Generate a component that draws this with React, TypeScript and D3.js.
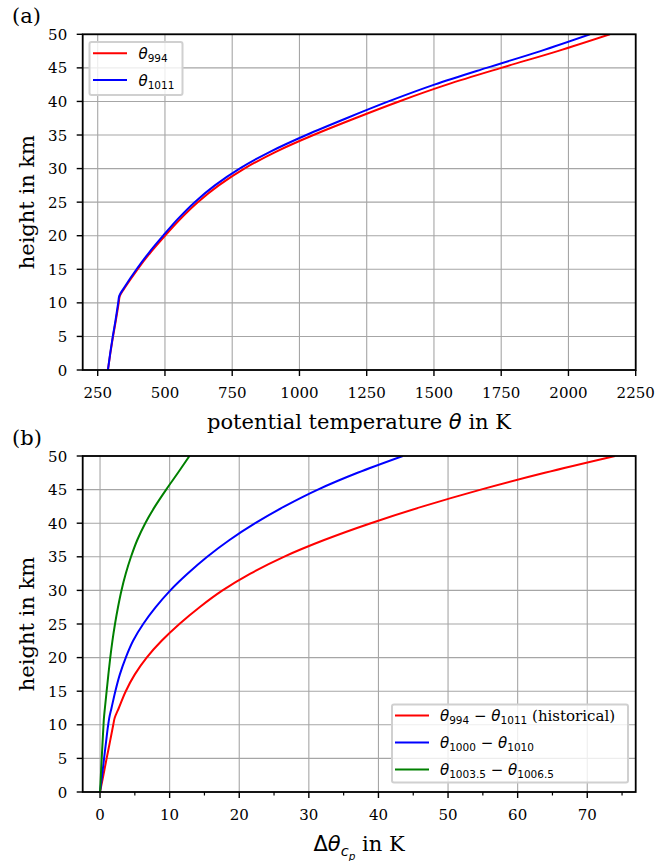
import React from 'react';
import * as d3 from 'd3';

const heights = [0, 2.5, 5, 7.5, 10, 11, 12.5, 15, 17.5, 20, 22.5, 25, 27.5, 30, 32.5, 35, 37.5, 40, 42.5, 45, 47.5, 50];
const theta994 = [288, 297, 307, 318, 328, 332, 355, 398, 446, 500, 557, 622, 700, 795, 912, 1052, 1207, 1370, 1548, 1750, 1960, 2154];
const theta1011 = [288, 296.5, 306.05, 316.6, 326.1, 329.9, 352.3, 394.3, 441, 493.3, 548.15, 610.6, 685.7, 777.4, 890.4, 1025.6, 1174.8, 1331.1, 1501.6, 1695.3, 1896.1, 2080];
const deltaHist = [0, 0.48, 0.95, 1.43, 1.9, 2.1, 2.7, 3.7, 5.0, 6.7, 8.85, 11.4, 14.3, 17.6, 21.6, 26.4, 32.2, 38.9, 46.4, 54.7, 63.9, 74];
const delta1000 = [0, 0.3, 0.58, 0.87, 1.17, 1.32, 1.65, 2.2, 2.85, 3.7, 4.75, 6.2, 8.0, 10.1, 12.6, 15.4, 18.6, 22.3, 26.5, 31.3, 37.0, 43.5];
const delta1003 = [0, 0.12, 0.24, 0.37, 0.5, 0.56, 0.7, 0.95, 1.2, 1.47, 1.78, 2.15, 2.58, 3.08, 3.7, 4.45, 5.35, 6.5, 7.9, 9.5, 11.2, 12.85];

const xTicksA = [250, 500, 750, 1000, 1250, 1500, 1750, 2000, 2250];
const xTicksB = [0, 10, 20, 30, 40, 50, 60, 70];
const xMinorB = [5, 15, 25, 35, 45, 55, 65, 75];
const yTicks = [0, 5, 10, 15, 20, 25, 30, 35, 40, 45, 50];

const SERIF = '"DejaVu Serif", serif';
const SANS = '"DejaVu Sans", sans-serif';
const LEFT = 82.7;
const RIGHT = 635.7;
const GRID = '#a6a6a6';
const TICK_FS = 15;
const LABEL_FS = 21;
const LEG_FS = 15;

type Part = { t: string; font?: string; italic?: boolean; size?: number; shift?: number };

function MathText({ parts, x, y, fs, anchor }: { parts: Part[]; x: number; y: number; fs: number; anchor?: string }) {
  let prev = 0;
  return (
    <text x={x} y={y} fontSize={fs} textAnchor={anchor || 'start'} fontFamily={SERIF} style={{ whiteSpace: 'pre' }}>
      {parts.map((p, i) => {
        const s = p.shift || 0;
        const dy = s - prev;
        prev = s;
        return (
          <tspan key={i} dy={dy} fontFamily={p.font || SERIF} fontStyle={p.italic ? 'italic' : 'normal'}
            fontSize={p.size || fs}>{p.t}</tspan>
        );
      })}
    </text>
  );
}

const th = (sub: string, fs: number): Part[] => [
  { t: 'θ', font: SANS, italic: true },
  { t: sub, font: SANS, size: fs * 0.7, shift: fs * 0.22 },
];
const minus = (): Part => ({ t: ' − ', font: SANS, shift: 0 });

type Series = { xs: number[]; color: string };

function Panel({ top, bottom, xDomain, xTicks, xMinor, series, children }: {
  top: number; bottom: number; xDomain: [number, number]; xTicks: number[]; xMinor: number[];
  series: Series[]; children?: React.ReactNode;
}) {
  const x = d3.scaleLinear().domain(xDomain).range([LEFT, RIGHT]);
  const y = d3.scaleLinear().domain([0, 50]).range([bottom, top]);
  const line = d3.line<[number, number]>().x(d => x(d[0])).y(d => y(d[1])).curve(d3.curveMonotoneY);
  return (
    <g>
      <defs>
        <clipPath id={`clip${top}`}>
          <rect x={LEFT} y={top} width={RIGHT - LEFT} height={bottom - top} />
        </clipPath>
      </defs>
      {xTicks.map(t => (
        <line key={'gx' + t} x1={x(t)} x2={x(t)} y1={top} y2={bottom} stroke={GRID} strokeWidth={1.1} />
      ))}
      {yTicks.map(t => (
        <line key={'gy' + t} x1={LEFT} x2={RIGHT} y1={y(t)} y2={y(t)} stroke={GRID} strokeWidth={1.1} />
      ))}
      <g clipPath={`url(#clip${top})`}>
        {series.map((s, i) => (
          <path key={i} d={line(s.xs.map((v, j) => [v, heights[j]] as [number, number])) || ''}
            fill="none" stroke={s.color} strokeWidth={2} strokeLinejoin="round" />
        ))}
      </g>
      <rect x={LEFT} y={top} width={RIGHT - LEFT} height={bottom - top} fill="none" stroke="#000" strokeWidth={1.8} />
      {xTicks.map(t => (
        <g key={'tx' + t}>
          <line x1={x(t)} x2={x(t)} y1={bottom} y2={bottom + 6} stroke="#000" strokeWidth={1.4} />
          <text x={x(t)} y={bottom + 27.5} textAnchor="middle" fontFamily={SERIF} fontSize={TICK_FS}>{t}</text>
        </g>
      ))}
      {xMinor.map(t => (
        <line key={'mx' + t} x1={x(t)} x2={x(t)} y1={bottom} y2={bottom + 3.5} stroke="#000" strokeWidth={1.2} />
      ))}
      {yTicks.map(t => (
        <g key={'ty' + t}>
          <line x1={LEFT - 6} x2={LEFT} y1={y(t)} y2={y(t)} stroke="#000" strokeWidth={1.4} />
          <text x={LEFT - 15.5} y={y(t) + 5.5} textAnchor="end" fontFamily={SERIF} fontSize={TICK_FS}>{t}</text>
        </g>
      ))}
      <text transform={`translate(34,${(top + bottom) / 2}) rotate(-90)`} textAnchor="middle"
        fontFamily={SERIF} fontSize={LABEL_FS}>height in km</text>
      {children}
    </g>
  );
}

export default function App() {
  return (
    <svg width={657} height={861} style={{ position: 'absolute', left: 0, top: 0, background: '#fff' }}>
      <rect width={657} height={861} fill="#fff" />
      <text x={12} y={22.5} fontFamily={SERIF} fontSize={LABEL_FS}>(a)</text>
      <Panel top={34.3} bottom={370} xDomain={[194.2, 2250]} xTicks={xTicksA} xMinor={[]}
        series={[{ xs: theta994, color: '#ff0000' }, { xs: theta1011, color: '#0000ff' }]}>
        <MathText x={359} y={429} fs={LABEL_FS} anchor="middle" parts={[
          { t: 'potential temperature ' }, { t: 'θ', font: SANS, italic: true }, { t: ' in K' },
        ]} />
        <g>
          <rect x={89.5} y={42} width={93} height={53} rx={2} fill="#fff" fillOpacity={0.8} stroke="#d0d0d0" strokeWidth={2} />
          <line x1={93} x2={127} y1={53.3} y2={53.3} stroke="#ff0000" strokeWidth={2} />
          <line x1={93} x2={127} y1={80} y2={80} stroke="#0000ff" strokeWidth={2} />
          <MathText x={138.5} y={58.5} fs={LEG_FS} parts={th('994', LEG_FS)} />
          <MathText x={138.5} y={85.5} fs={LEG_FS} parts={th('1011', LEG_FS)} />
        </g>
      </Panel>
      <text x={12} y={444.5} fontFamily={SERIF} fontSize={LABEL_FS}>(b)</text>
      <Panel top={456} bottom={792} xDomain={[-2.49, 76.96]} xTicks={xTicksB} xMinor={xMinorB}
        series={[{ xs: deltaHist, color: '#ff0000' }, { xs: delta1000, color: '#0000ff' }, { xs: delta1003, color: '#008000' }]}>
        <MathText x={359} y={851} fs={LABEL_FS} anchor="middle" parts={[
          { t: 'Δ', font: SANS },
          { t: 'θ', font: SANS, italic: true },
          { t: 'c', font: SANS, italic: true, size: 14.5, shift: 5 },
          { t: 'p', font: SANS, italic: true, size: 10.5, shift: 8.5 },
          { t: ' in K', shift: 0 },
        ]} />
        <g>
          <rect x={392} y={704.5} width={236} height={78} rx={2} fill="#fff" fillOpacity={0.8} stroke="#d0d0d0" strokeWidth={2} />
          <line x1={395} x2={429} y1={715.5} y2={715.5} stroke="#ff0000" strokeWidth={2} />
          <line x1={395} x2={429} y1={742.5} y2={742.5} stroke="#0000ff" strokeWidth={2} />
          <line x1={395} x2={429} y1={769.5} y2={769.5} stroke="#008000" strokeWidth={2} />
          <MathText x={440} y={720.5} fs={LEG_FS} parts={[
            ...th('994', LEG_FS), minus(), ...th('1011', LEG_FS), { t: ' (historical)', shift: 0 },
          ]} />
          <MathText x={440} y={747.5} fs={LEG_FS} parts={[...th('1000', LEG_FS), minus(), ...th('1010', LEG_FS)]} />
          <MathText x={440} y={774.5} fs={LEG_FS} parts={[...th('1003.5', LEG_FS), minus(), ...th('1006.5', LEG_FS)]} />
        </g>
      </Panel>
    </svg>
  );
}
